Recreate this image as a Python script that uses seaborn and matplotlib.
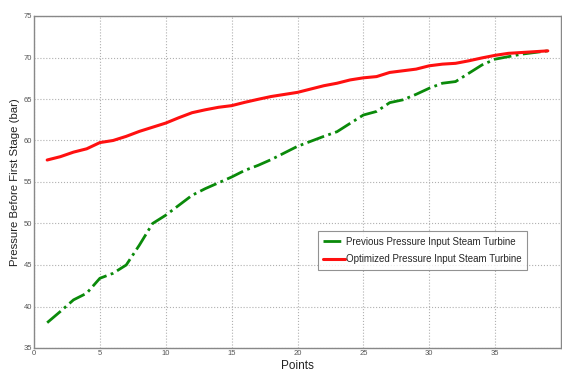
import matplotlib
matplotlib.use("Agg")
import matplotlib.pyplot as plt
import seaborn as sns
import numpy as np
import pandas as pd

points = list(range(1, 40))
previous = [38.05, 39.4, 40.8, 41.6, 43.4, 44.0, 45.0, 47.4, 50.0, 51.0,
            52.2, 53.4, 54.2, 54.9, 55.6, 56.4, 57.0, 57.7, 58.5, 59.3,
            59.9, 60.5, 61.06, 62.07, 63.07, 63.5, 64.56, 64.9, 65.56, 66.3,
            66.9, 67.1, 68.1, 69.1, 69.8, 70.1, 70.4, 70.6, 70.8]
optimized = [57.65, 58.05, 58.6, 59.0, 59.75, 60.0, 60.5, 61.1, 61.6, 62.1,
             62.75, 63.35, 63.7, 64.0, 64.2, 64.6, 64.96, 65.3, 65.55, 65.8,
             66.2, 66.6, 66.9, 67.3, 67.55, 67.7, 68.2, 68.4, 68.6, 69.0,
             69.2, 69.3, 69.6, 69.95, 70.26, 70.5, 70.6, 70.7, 70.8]
labels = ["Previous Pressure Input Steam Turbine",
          "Optimized Pressure Input Steam Turbine"]

sns.set_style("white")
plt.rcParams['font.family'] = ['Liberation Sans', 'DejaVu Sans']

fig = plt.figure(figsize=(5.62, 3.72), dpi=100)
ax = fig.add_axes([34/562, 24/372, 527/562, 332/372])

df = pd.DataFrame({"Points": points, "prev": previous, "opt": optimized})
sns.lineplot(data=df, x="Points", y="prev", ax=ax, color="#0a8a0a",
             linestyle="-.", linewidth=2.0, label=labels[0])
sns.lineplot(data=df, x="Points", y="opt", ax=ax, color="#ff1010",
             linestyle="-", linewidth=2.2, label=labels[1])

ax.set_xlim(0, 40)
ax.set_ylim(35, 75)
ax.set_xticks(np.arange(0, 40, 5))
ax.set_yticks(np.arange(35, 76, 5))
ax.grid(True, linestyle=":", color="#b0b0b0", linewidth=0.8)
ax.tick_params(direction="in", labelsize=5.5, colors="#555555", length=3,
               top=False, right=False, pad=1.5)
for lab in ax.get_xticklabels() + ax.get_yticklabels():
    lab.set_family(['Liberation Sans Narrow', 'Liberation Sans'])
for s in ax.spines.values():
    s.set_color("#888888")
    s.set_linewidth(1.0)

ax.set_xlabel("Points", fontsize=8.5, color="#222222")
ax.xaxis.set_label_coords(0.5, -0.054)
ax.xaxis.label.set_va("center")
ax.set_ylabel("Pressure Before First Stage (bar)", fontsize=8.2,
              color="#222222")
ax.yaxis.set_label_coords(-0.036, 0.5)
ax.yaxis.label.set_va("center")

leg = ax.legend(loc="upper left", bbox_to_anchor=(0.529, 0.368),
                fontsize=7, frameon=True, fancybox=False, handlelength=2.2,
                handletextpad=0.1, borderpad=0.6, labelspacing=0.8)
leg.get_frame().set_edgecolor("#777777")
leg.get_frame().set_linewidth(0.8)

fig.savefig("out.png", dpi=100)
